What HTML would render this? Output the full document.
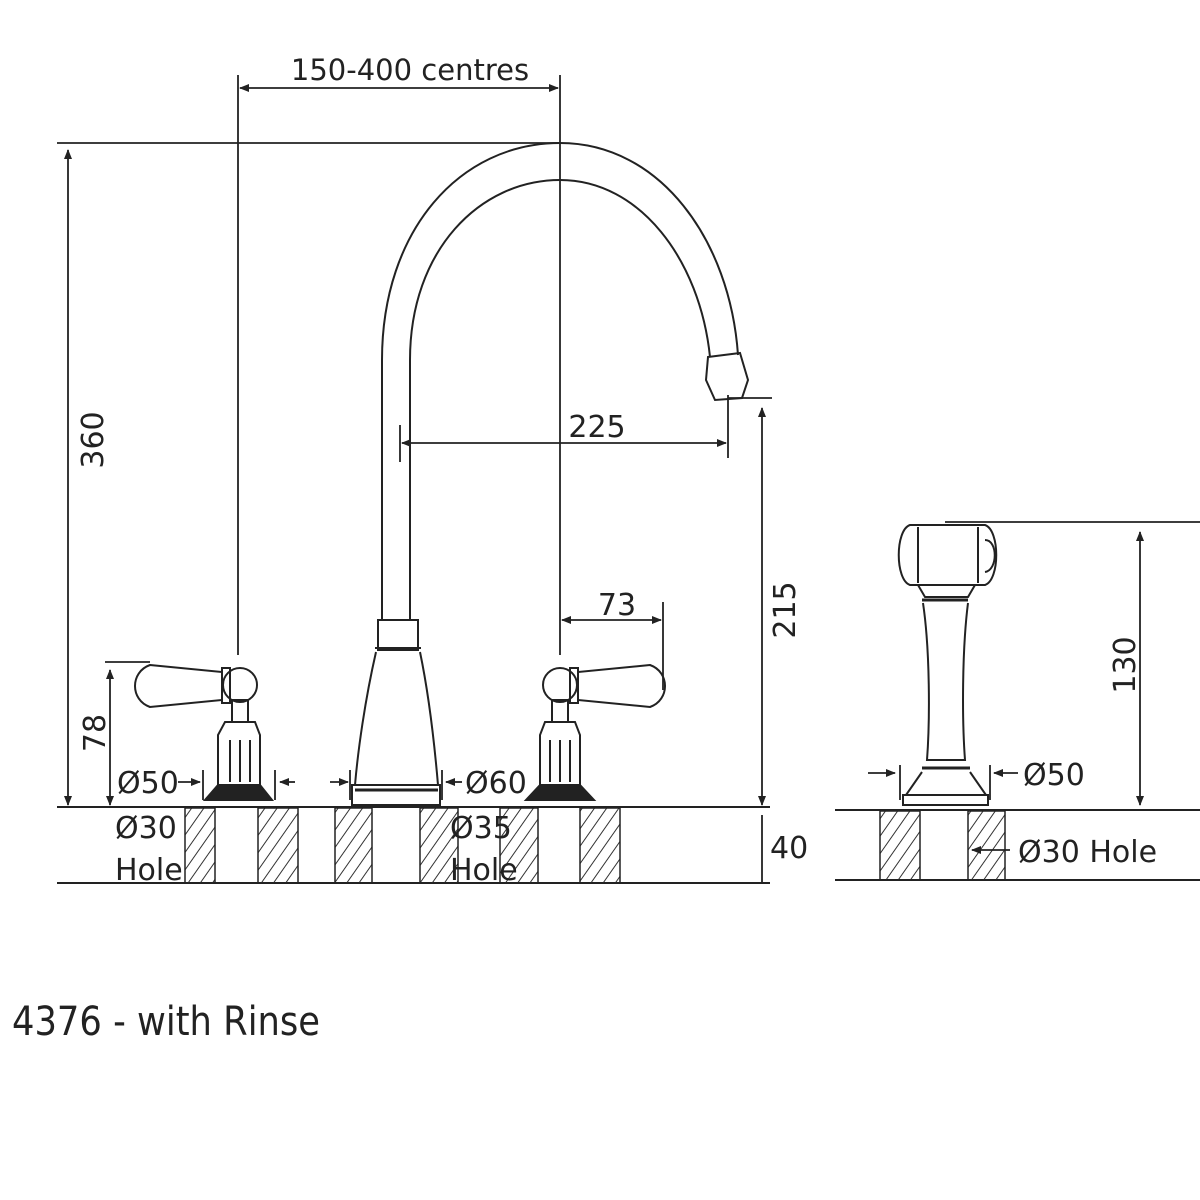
<!DOCTYPE html>
<html><head><style>body{margin:0;background:#fff}svg{display:block}text{font-family:"DejaVu Sans","Liberation Sans",sans-serif;fill:#222}</style></head><body>
<svg width="1200" height="1200" viewBox="0 0 1200 1200" xmlns="http://www.w3.org/2000/svg">
<defs>
<pattern id="h" width="10" height="10" patternUnits="userSpaceOnUse" patternTransform="rotate(35)"><line x1="0" y1="0" x2="0" y2="10" stroke="#333" stroke-width="2"/></pattern>
<marker id="a" markerWidth="10" markerHeight="8" refX="9" refY="4" orient="auto-start-reverse" markerUnits="userSpaceOnUse"><path d="M0,0 L10,4 L0,8z" fill="#222"/></marker>
</defs>
<g stroke="#222" stroke-width="2" fill="none">
<!-- counters -->
<line x1="57" y1="807" x2="770" y2="807"/><line x1="57" y1="883" x2="770" y2="883"/>
<line x1="835" y1="810" x2="1200" y2="810"/><line x1="835" y1="880" x2="1200" y2="880"/>
</g>
<g fill="url(#h)" stroke="#222" stroke-width="1.5">
<rect x="185" y="808" width="30" height="75"/><rect x="258" y="808" width="40" height="75"/>
<rect x="335" y="808" width="37" height="75"/><rect x="420" y="808" width="38" height="75"/>
<rect x="500" y="808" width="38" height="75"/><rect x="580" y="808" width="40" height="75"/>
<rect x="880" y="811" width="40" height="69"/><rect x="968" y="811" width="37" height="69"/>
</g>
<g stroke="#222" stroke-width="2" fill="none">
<!-- spout -->
<path d="M382,620 L382,360 C382,230 460,143 560,143 C660,143 730,240 738,355"/>
<path d="M410,620 L410,360 C410,250 480,180 560,180 C640,180 700,260 710,357"/>
<path d="M708,357 L740,353 L748,380 L742,398 L715,400 L706,380Z"/>
<!-- spout base -->
<rect x="378" y="620" width="40" height="30"/>
<line x1="375" y1="648" x2="421" y2="648"/>
<path d="M376,652 C365,700 358,750 355,785 L438,785 C435,750 430,700 420,652"/>
<rect x="352" y="785" width="88" height="20"/><line x1="355" y1="790" x2="438" y2="790" stroke-width="3"/>
<!-- left valve -->
<path d="M150,665 L222,672 L222,700 L150,707 C130,700 130,672 150,665Z"/>
<rect x="222" y="668" width="8" height="35"/>
<circle cx="240" cy="685" r="17"/>
<rect x="232" y="700" width="16" height="22"/>
<path d="M225,722 L255,722 L260,735 L260,785 L218,785 L218,735Z"/>
<line x1="230" y1="740" x2="230" y2="782"/><line x1="240" y1="740" x2="240" y2="782"/><line x1="250" y1="740" x2="250" y2="782"/>
<path d="M218,785 L205,800 L272,800 L260,785" fill="#222"/>
<!-- right valve -->
<path d="M650,665 L578,672 L578,700 L650,707 C670,700 670,672 650,665Z"/>
<rect x="570" y="668" width="8" height="35"/>
<circle cx="560" cy="685" r="17"/>
<rect x="552" y="700" width="16" height="22"/>
<path d="M545,722 L575,722 L580,735 L580,785 L540,785 L540,735Z"/>
<line x1="550" y1="740" x2="550" y2="782"/><line x1="560" y1="740" x2="560" y2="782"/><line x1="570" y1="740" x2="570" y2="782"/>
<path d="M540,785 L526,800 L594,800 L580,785" fill="#222"/>
<!-- rinse -->
<path d="M910,525 L985,525 C1000,530 1000,580 985,585 L910,585 C895,580 895,530 910,525Z"/>
<line x1="918" y1="527" x2="918" y2="583"/><line x1="978" y1="527" x2="978" y2="583"/>
<path d="M985,540 C998,540 998,570 985,572"/>
<path d="M918,585 L925,597 L968,597 L975,585"/>
<line x1="922" y1="600" x2="968" y2="600" stroke-width="3"/>
<path d="M923,603 C930,650 930,720 927,760 L965,760 C962,720 962,650 968,603"/>
<line x1="922" y1="768" x2="970" y2="768" stroke-width="3"/>
<path d="M922,772 L906,795 L986,795 L970,772"/>
<rect x="903" y="795" width="85" height="10"/>
<!-- dimension lines -->
<g stroke-width="1.8">
<line x1="57" y1="143" x2="560" y2="143"/>
<line x1="68" y1="150" x2="68" y2="805" marker-start="url(#a)" marker-end="url(#a)"/>
<line x1="238" y1="75" x2="238" y2="655"/><line x1="560" y1="75" x2="560" y2="655"/>
<line x1="240" y1="88" x2="558" y2="88" marker-start="url(#a)" marker-end="url(#a)"/>
<line x1="400" y1="425" x2="400" y2="462"/><line x1="728" y1="395" x2="728" y2="458"/>
<line x1="402" y1="443" x2="726" y2="443" marker-start="url(#a)" marker-end="url(#a)"/>
<line x1="728" y1="398" x2="772" y2="398"/>
<line x1="762" y1="408" x2="762" y2="805" marker-start="url(#a)" marker-end="url(#a)"/>
<line x1="663" y1="602" x2="663" y2="690"/>
<line x1="562" y1="620" x2="661" y2="620" marker-start="url(#a)" marker-end="url(#a)"/>
<line x1="105" y1="662" x2="150" y2="662"/>
<line x1="110" y1="670" x2="110" y2="805" marker-start="url(#a)" marker-end="url(#a)"/>
<line x1="762" y1="815" x2="762" y2="883"/>
<line x1="945" y1="522" x2="1200" y2="522"/>
<line x1="1140" y1="532" x2="1140" y2="805" marker-start="url(#a)" marker-end="url(#a)"/>
<line x1="178" y1="782" x2="200" y2="782" marker-end="url(#a)"/><line x1="203" y1="770" x2="203" y2="800"/>
<line x1="275" y1="770" x2="275" y2="800"/><line x1="295" y1="782" x2="280" y2="782" marker-end="url(#a)"/>
<line x1="330" y1="782" x2="348" y2="782" marker-end="url(#a)"/><line x1="350" y1="770" x2="350" y2="800"/>
<line x1="442" y1="770" x2="442" y2="800"/><line x1="462" y1="782" x2="446" y2="782" marker-end="url(#a)"/>
<line x1="868" y1="773" x2="895" y2="773" marker-end="url(#a)"/><line x1="900" y1="765" x2="900" y2="800"/>
<line x1="990" y1="765" x2="990" y2="800"/><line x1="1018" y1="773" x2="994" y2="773" marker-end="url(#a)"/>
<line x1="1010" y1="850" x2="972" y2="850" marker-end="url(#a)"/>
</g>
</g>
<g font-size="30">
<text x="410" y="80" text-anchor="middle" font-size="29">150-400 centres</text>
<text x="597" y="437" text-anchor="middle">225</text>
<text x="617" y="615" text-anchor="middle">73</text>
<text transform="translate(103,440) rotate(-90)" text-anchor="middle">360</text>
<text transform="translate(795,610) rotate(-90)" text-anchor="middle">215</text>
<text transform="translate(105,733) rotate(-90)" text-anchor="middle">78</text>
<text transform="translate(1135,665) rotate(-90)" text-anchor="middle">130</text>
<text x="770" y="858">40</text>
<text x="117" y="793">Ø50</text>
<text x="465" y="793">Ø60</text>
<text x="1023" y="785">Ø50</text>
<text x="115" y="838">Ø30</text><text x="115" y="880">Hole</text>
<text x="450" y="838">Ø35</text><text x="450" y="880">Hole</text>
<text x="1018" y="862">Ø30 Hole</text>
<text x="12" y="1035" font-size="40" font-family="Liberation Sans Narrow,Liberation Sans,sans-serif" textLength="308" lengthAdjust="spacingAndGlyphs">4376 - with Rinse</text>
</g>
</svg>
</body></html>
